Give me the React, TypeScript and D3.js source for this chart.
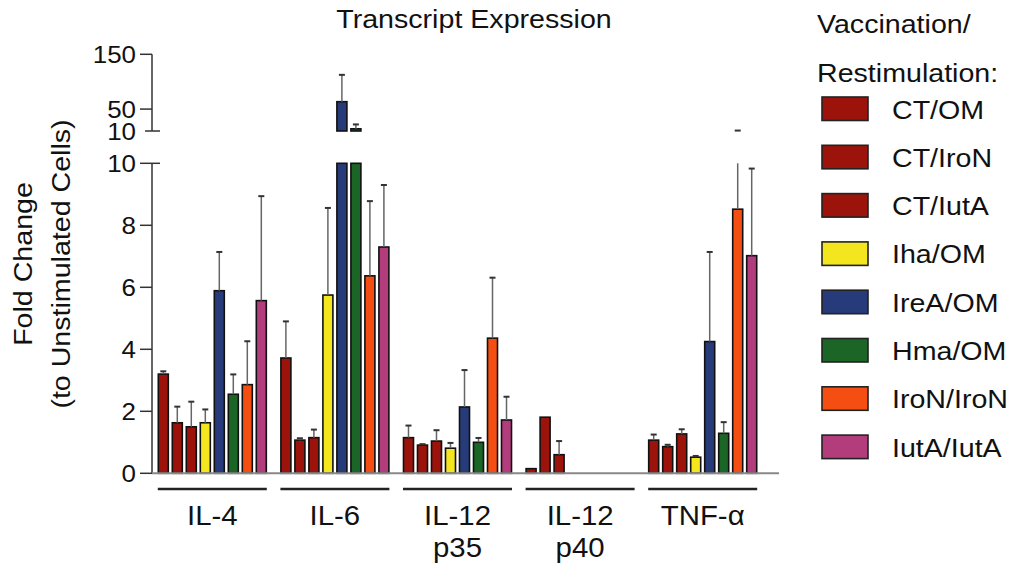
import React from "react";
import * as d3 from "d3";

const categories = ["IL-4", "IL-6", "IL-12 p35", "IL-12 p40", "TNF-α"];
const series = ["CT/OM", "CT/IroN", "CT/IutA", "Iha/OM", "IreA/OM", "Hma/OM", "IroN/IroN", "IutA/IutA"];
const colors = ["#9b130b", "#9b130b", "#9b130b", "#f3e51e", "#273b7a", "#1b6627", "#f54e12", "#b33c7c"];

// mean values per series, across categories (null = not shown)
const ctOM = [3.2, 3.72, 1.15, 0.15, 1.07];
const ctIroN = [1.63, 1.07, 0.91, 1.81, 0.86];
const ctIutA = [1.5, 1.15, 1.04, 0.6, 1.27];
const ihaOM = [1.63, 5.75, 0.81, null, 0.52];
const ireaOM = [5.89, 63.5, 2.14, null, 4.25];
const hmaOM = [2.55, 14, 1.0, null, 1.29];
const ironIroN = [2.86, 6.37, 4.36, null, 8.52];
const iutaIutA = [5.57, 7.3, 1.72, null, 7.02];

// upper error (SD) per series
const ctOMErr = [0.09, 1.18, 0.39, 0, 0.18];
const ctIroNErr = [0.52, 0.06, 0.03, 0, 0.06];
const ctIutAErr = [0.81, 0.26, 0.35, 0.44, 0.15];
const ihaOMErr = [0.43, 2.81, 0.17, null, 0.04];
const ireaOMErr = [1.25, 49, 1.19, null, 2.89];
const hmaOMErr = [0.64, 8, 0.14, null, 0.36];
const ironIroNErr = [1.4, 2.41, 1.95, null, 2.28];
const iutaIutAErr = [3.37, 2.0, 0.75, null, 2.81];

const lowTicks = [0, 2, 4, 6, 8, 10];
const highTicks = [10, 50, 150];

const values = [ctOM, ctIroN, ctIutA, ihaOM, ireaOM, hmaOM, ironIroN, iutaIutA];
const errors = [ctOMErr, ctIroNErr, ctIutAErr, ihaOMErr, ireaOMErr, hmaOMErr, ironIroNErr, iutaIutAErr];

const FONT = "'Liberation Sans', Arial, Helvetica, sans-serif";

function T({ x, y, size, anchor = "start", sx = 1.1, rotate = 0, children, weight = "normal" }: any) {
  return (
    <g transform={`translate(${x},${y}) rotate(${rotate}) scale(${sx},1)`}>
      <text x={0} y={0} fontSize={size} textAnchor={anchor} fontFamily={FONT} fill="#111" fontWeight={weight}>
        {children}
      </text>
    </g>
  );
}

export default function App() {
  const W = 1018, H = 567;
  const axisX = 152;
  const yLo = d3.scaleLinear().domain([0, 10]).range([473.3, 163.3]);
  const yHi = d3.scaleLinear().domain([10, 150]).range([131, 54.3]);
  const x0 = d3.scaleBand<string>().domain(categories).range([151, 764]).paddingInner(0).paddingOuter(0);
  const x1 = d3.scaleBand<string>().domain(series).range([0, x0.bandwidth()]).paddingInner(4 / 14).paddingOuter(0.521);

  const bars: any[] = [];
  const errs: any[] = [];
  categories.forEach((c, ci) => {
    series.forEach((s, si) => {
      const v = values[si][ci];
      if (v == null) return;
      const e = errors[si][ci] ?? 0;
      const bx = (x0(c) as number) + (x1(s) as number);
      const bw = x1.bandwidth();
      const cx = bx + bw / 2;
      const lowTop = yLo(Math.min(v, 10));
      bars.push(<rect key={`b${ci}-${si}`} x={bx} y={lowTop} width={bw} height={yLo(0) - lowTop} fill={colors[si]} stroke="#111" strokeWidth={1.6} />);
      if (v > 10) {
        const hiTop = yHi(Math.min(v, 150));
        bars.push(<rect key={`bh${ci}-${si}`} x={bx} y={hiTop} width={bw} height={yHi(10) - hiTop} fill={colors[si]} stroke="#111" strokeWidth={1.6} />);
      }
      if (e > 0) {
        const top = v + e;
        if (v < 10) {
          errs.push(<line key={`el${ci}-${si}`} x1={cx} x2={cx} y1={yLo(v)} y2={yLo(Math.min(top, 10))} stroke="#666" strokeWidth={1.5} />);
        }
        if (top > 10) {
          errs.push(<line key={`eh${ci}-${si}`} x1={cx} x2={cx} y1={yHi(Math.max(v, 10))} y2={yHi(top)} stroke="#666" strokeWidth={1.5} />);
        }
        const capY = top > 10 ? yHi(top) : yLo(top);
        errs.push(<line key={`ec${ci}-${si}`} x1={cx - 3} x2={cx + 3} y1={capY} y2={capY} stroke="#333" strokeWidth={2} />);
      }
    });
  });

  return (
    <svg width={W} height={H} style={{ position: "absolute", left: 0, top: 0, background: "#fff" }}>
      <rect x={0} y={0} width={W} height={H} fill="#fff" />
      <T x={474} y={28} size={26} anchor="middle">Transcript Expression</T>

      {/* Y axis label */}
      <T x={32} y={264} size={26} anchor="middle" rotate={-90}>Fold Change</T>
      <T x={70} y={264} size={26} anchor="middle" rotate={-90}>(to Unstimulated Cells)</T>

      {/* lower axis */}
      <line x1={axisX} x2={axisX} y1={yLo(10)} y2={yLo(0)} stroke="#333" strokeWidth={1.5} />
      {lowTicks.map((t) => (
        <g key={`lt${t}`}>
          <line x1={140} x2={t === 10 ? 160 : axisX} y1={yLo(t)} y2={yLo(t)} stroke="#333" strokeWidth={1.5} />
          <T x={136} y={yLo(t) + 8.5} size={24} anchor="end" sx={1.08}>{t}</T>
        </g>
      ))}
      {/* upper axis */}
      <line x1={axisX} x2={axisX} y1={yHi(150)} y2={yHi(10)} stroke="#333" strokeWidth={1.5} />
      {highTicks.map((t) => (
        <g key={`ht${t}`}>
          <line x1={t === 10 ? 145 : 140} x2={t === 10 ? 160 : axisX} y1={yHi(t)} y2={yHi(t)} stroke="#333" strokeWidth={1.5} />
          <T x={136} y={yHi(t) + 8.5} size={24} anchor="end" sx={1.08}>{t}</T>
        </g>
      ))}

      {bars}
      {errs}

      {/* baseline */}
      <line x1={axisX} x2={779} y1={yLo(0)} y2={yLo(0)} stroke="#888" strokeWidth={2} />

      {/* category underlines & labels */}
      {categories.map((c) => {
        const cx = (x0(c) as number) + x0.bandwidth() / 2;
        const lines = c.split(" ");
        return (
          <g key={`c${c}`}>
            <line x1={cx - 54.5} x2={cx + 54.5} y1={489} y2={489} stroke="#222" strokeWidth={2.5} />
            {lines.map((ln, i) => (
              <T key={ln + i} x={cx} y={525 + i * 32} size={28} anchor="middle" sx={1.05}>{ln}</T>
            ))}
          </g>
        );
      })}

      {/* legend */}
      <T x={817} y={33} size={26}>Vaccination/</T>
      <T x={817} y={82} size={26}>Restimulation:</T>
      {series.map((s, i) => (
        <g key={`lg${s}`}>
          <rect x={822} y={97 + 48.3 * i} width={46} height={23.5} fill={colors[i]} stroke="#222" strokeWidth={1.6} />
          <T x={892} y={97 + 48.3 * i + 21.5} size={26}>{s}</T>
        </g>
      ))}
    </svg>
  );
}
